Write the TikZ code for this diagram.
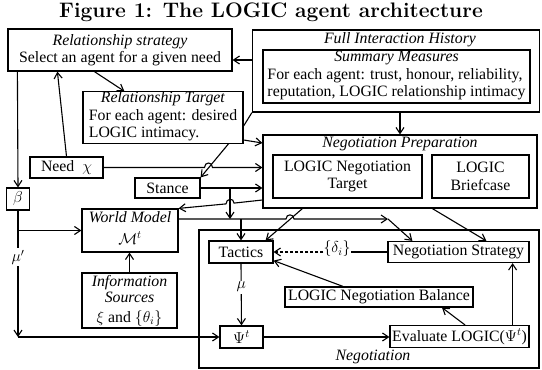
\RequirePackage{fix-cm}
\documentclass[tikz,border=0pt]{standalone}
\usepackage{fontspec}
\newfontfamily\tms{Liberation Serif}
\usetikzlibrary{arrows.meta}
\begin{document}
\begin{tikzpicture}[x=1pt,y=-1pt,
  every node/.style={font=\tms\fontsize{15.8}{17.5}\selectfont},
  box/.style={draw, line width=1.2pt, inner sep=0pt, align=center},
  lbl/.style={inner sep=0pt},
  arr/.style={line width=1.1pt, -{Straight Barb[length=6pt,width=8pt,line width=1.1pt]}},
  ln/.style={line width=1.1pt}]
\useasboundingbox (0,0) rectangle (542,370);

\node[lbl, font=\bfseries\fontsize{21}{24}\selectfont] (title) at (271,12) {Figure 1: The LOGIC agent architecture};

\node[box, minimum width=224pt, minimum height=42pt] (rs) at (120,50) {\textit{Relationship strategy}\\Select an agent for a given need};
\node[box, minimum width=287pt, minimum height=82pt] (fih) at (396,71) {};
\node[lbl] (fihl) at (400,40) {\textit{Full Interaction History}};
\node[box, minimum width=267pt, minimum height=53pt] (sm) at (396.5,76.5) {\textit{Summary Measures}\\\begin{tabular}[t]{@{}l@{}}For each agent: trust, honour, reliability,\\reputation, LOGIC relationship intimacy\end{tabular}};
\node[box, minimum width=160pt, minimum height=51pt] (rt) at (163,117.5) {\textit{Relationship Target}\\\begin{tabular}[t]{@{}l@{}}For each agent: desired\\LOGIC intimacy.\end{tabular}};
\node[box, minimum width=73pt, minimum height=21pt] (need) at (66.5,167.5) {Need~ $\chi$};
\node[box, minimum width=65pt, minimum height=20pt] (stance) at (167.5,188) {Stance};
\node[box, minimum width=23pt, minimum height=22pt] (beta) at (18,199) {$\beta$};
\node[box, minimum width=274pt, minimum height=73pt] (np) at (400,171.5) {};
\node[lbl] (npl) at (400,144) {\textit{Negotiation Preparation}};
\node[box, minimum width=149pt, minimum height=43pt] (nt) at (347.5,176.5) {LOGIC Negotiation\\Target};
\node[box, minimum width=97pt, minimum height=43pt] (bc) at (480.5,176.5) {LOGIC\\Briefcase};
\node[box, minimum width=96pt, minimum height=43pt] (wm) at (130,230.5) {};
\node[lbl] (wml) at (130,217) {\textit{World Model}};
\node[lbl] (wmm) at (130,238) {$\mathcal{M}^t$};
\node[box, minimum width=95pt, minimum height=55pt, font=\tms\fontsize{15.8}{16.5}\selectfont] (info) at (129.5,300.5) {\textit{Information}\\\textit{Sources}\\[3pt]$\xi$ and $\{\theta_i\}$};
\node[box, minimum width=340pt, minimum height=138pt] (neg) at (369,299) {};
\node[lbl] (negl) at (373,357) {\textit{Negotiation}};
\node[box, minimum width=64pt, minimum height=22pt] (tac) at (241,252) {Tactics};
\node[box, minimum width=141pt, minimum height=21pt] (ns) at (458.5,252) {Negotiation Strategy};
\node[lbl] (delta) at (337,249) {$\{\delta_i\}$};
\node[box, minimum width=188pt, minimum height=20pt] (bal) at (379,297) {LOGIC Negotiation Balance};
\node[box, minimum width=43pt, minimum height=22pt] (psi) at (241.5,337) {$\Psi^t$};
\node[box, minimum width=139pt, minimum height=22pt] (ev) at (459.5,336.5) {Evaluate LOGIC($\Psi^t$)};

\coordinate (jx) at (230,219);
\coordinate (kx) at (388,219);
\coordinate (evr) at ([xshift=-17pt]ev.north east);

\draw[arr] ([yshift=11pt]fih.west) -- ([yshift=-10pt]rs.east);
\draw[arr] (np.north |- fih.south) -- (np.north);
\draw[ln] (fih.south west) -- ([yshift=-8.5pt]rt.east);
\draw[arr] ([yshift=-22.5pt]rt.east) -- ([yshift=28.5pt]np.west);
\draw[arr] ([xshift=-15pt]rt.south east) -- (stance.north east);
\draw[arr] ([xshift=87pt]rs.south west) -- ([xshift=42pt]rt.north west);
\draw[arr] (need.north) -- ([xshift=50pt]rs.south west);
\draw[arr] ([xshift=10pt]rs.south west) -- (beta.north);
\draw[arr] (need.east) -- (204.5,167.5) .. controls (204.5,161.5) and (212.5,161.5) .. (212.5,167.5) -- (np.west |- need.east);
\draw[arr] (stance.east) -- (np.west |- stance.east);
\draw[arr] (stance.east -| jx) -- (jx);
\draw[arr] ([yshift=-28.5pt]np.west) -- (234,203.1) .. controls (234,197.5) and (226,198.3) .. (226,203.9) -- (wm.north east);
\draw[arr] (wm.east |- jx) -- (286,219) .. controls (286,213.5) and (294,213.5) .. (294,219) -- (kx);
\draw[arr] (kx) -- ([xshift=25pt]ns.north west);
\draw[arr] (tac.north |- jx) -- (tac.north);
\draw[arr] ([xshift=40pt]np.south west) -- ([xshift=-8pt]tac.north east);
\draw[arr] ([xshift=170pt]np.south west) -- ([xshift=99pt]ns.north west);
\draw[ln] (ns.west) -- (ns.west -| delta.east);
\draw[arr, dash pattern=on 3pt off 2pt] (ns.west -| delta.west) -- (tac.east);
\draw[arr] ([xshift=-36pt]bal.north) -- ([yshift=3pt]tac.south east);
\draw[arr] ([xshift=5.5pt]ev.north) -- ([xshift=63pt]bal.south);
\draw[arr] (evr) -- (evr |- ns.south);
\draw[arr] (psi.east) -- (psi.east -| ev.west);
\draw[arr] (tac.south) -- node[pos=0.38, fill=white, inner sep=1.5pt] (mu) {$\mu$} (psi.north);
\draw[arr] (beta.south |- wm.west) -- (wm.west);
\draw[arr] (beta.south) -- node[pos=0.37, fill=white, inner sep=1.5pt] (mup) {$\mu'$} (beta.south |- psi.west);
\draw[arr] (beta.south |- psi.west) -- (psi.west);
\draw[arr] (info.north) -- (info.north |- wm.south);
\end{tikzpicture}
\end{document}
